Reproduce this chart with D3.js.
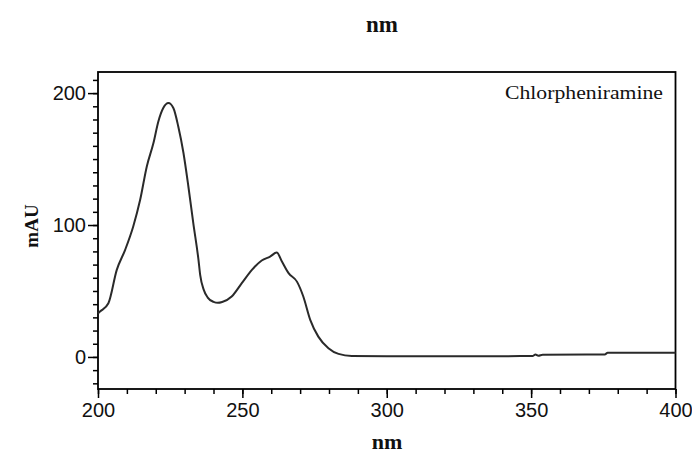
<!DOCTYPE html>
<html>
<head>
<meta charset="utf-8">
<script src="https://cdn.jsdelivr.net/npm/d3@7"></script>
<style>
  html, body { margin: 0; padding: 0; background: #fff; }
  svg { display: block; }
</style>
</head>
<body>
<svg id="chart" width="692" height="455"></svg>
<script>
// ---- data ----
const wavelength = [200, 200.7, 203.6, 206.5, 209.4, 212.2, 214.6, 216.9, 219.2, 220.9, 222.6, 224.4, 226.1, 227.8, 229.6, 231.3, 233.0, 234.8, 235.4, 236.6, 238.0, 240.0, 241.5, 243.0, 246.3, 249.8, 253.3, 256.7, 259.6, 261.9, 263.7, 266.0, 268.9, 271.1, 273.5, 276.3, 279.8, 283.3, 287.9, 300, 320, 340, 350.5, 351.5, 352.5, 354, 370, 375.5, 376.5, 400];
const absorbance = [33, 34.4, 40.7, 66, 81.2, 98.9, 119.1, 144.4, 162.1, 178.5, 188.7, 192.5, 188.7, 174.7, 154.6, 129.2, 101.4, 73.6, 62, 51, 45, 41.8, 41.0, 41.6, 45.8, 55.9, 66, 73.1, 76.1, 79.1, 72.3, 63.5, 57.1, 45.8, 28.1, 15.4, 6.6, 2.3, 0.8, 0.6, 0.6, 0.6, 0.7, 1.8, 0.9, 1.7, 1.9, 1.9, 3.1, 3.1];

const xMajorTicks = [200, 250, 300, 350, 400];
const xMinorTicks = d3.range(200, 401, 10);
const yMajorTicks = [0, 100, 200];
const yMinorTicks = d3.range(-20, 211, 10);

const seriesLabel = "Chlorpheniramine";
const xTitle = "nm";
const yTitle = "mAU";

// ---- layout ----
const svg = d3.select("#chart");
const plotLeft = 98, plotRight = 675.5, plotTop = 72, plotBottom = 389;

const x = d3.scaleLinear().domain([200, 400]).range([plotLeft, plotRight]);
const y = d3.scaleLinear().domain([-24.3, 216]).range([plotBottom, plotTop]);

const tickFont = "'Liberation Sans', Arial, sans-serif";
const serif = "'Liberation Serif', 'Times New Roman', serif";

// minor x ticks
svg.append("g")
  .attr("transform", `translate(0,${plotBottom})`)
  .call(d3.axisBottom(x).tickValues(xMinorTicks).tickSize(5).tickFormat(""))
  .call(g => g.select(".domain").remove())
  .call(g => g.selectAll("line").attr("stroke", "#000").attr("stroke-width", 1.5));

// major x ticks with labels
svg.append("g")
  .attr("transform", `translate(0,${plotBottom})`)
  .call(d3.axisBottom(x).tickValues(xMajorTicks).tickSize(9).tickPadding(5).tickFormat(d3.format("d")))
  .call(g => g.select(".domain").remove())
  .call(g => g.selectAll("line").attr("stroke", "#000").attr("stroke-width", 1.5))
  .call(g => g.selectAll("text").attr("fill", "#111").style("font-family", tickFont).style("font-size", "20px"));

// minor y ticks
svg.append("g")
  .attr("transform", `translate(${plotLeft},0)`)
  .call(d3.axisLeft(y).tickValues(yMinorTicks).tickSize(5).tickFormat(""))
  .call(g => g.select(".domain").remove())
  .call(g => g.selectAll("line").attr("stroke", "#000").attr("stroke-width", 1.5));

// major y ticks with labels
svg.append("g")
  .attr("transform", `translate(${plotLeft},0)`)
  .call(d3.axisLeft(y).tickValues(yMajorTicks).tickSize(10).tickPadding(2).tickFormat(d3.format("d")))
  .call(g => g.select(".domain").remove())
  .call(g => g.selectAll("line").attr("stroke", "#000").attr("stroke-width", 1.5))
  .call(g => g.selectAll("text").attr("fill", "#111").style("font-family", tickFont).style("font-size", "20px"));

// frame
svg.append("rect")
  .attr("x", plotLeft).attr("y", plotTop)
  .attr("width", plotRight - plotLeft).attr("height", plotBottom - plotTop)
  .attr("fill", "none").attr("stroke", "#000").attr("stroke-width", 1.8);

// spectrum
const data = wavelength.map((w, i) => ({ w, a: absorbance[i] }));
svg.append("path")
  .datum(data)
  .attr("fill", "none")
  .attr("stroke", "#2a2a2a")
  .attr("stroke-width", 2)
  .attr("stroke-linejoin", "round")
  .attr("d", d3.line().x(d => x(d.w)).y(d => y(d.a)).curve(d3.curveMonotoneX));

// series label
svg.append("text")
  .attr("x", 663).attr("y", 99)
  .attr("text-anchor", "end")
  .attr("textLength", 158).attr("lengthAdjust", "spacingAndGlyphs")
  .style("font-family", serif).style("font-size", "18px").attr("fill", "#111")
  .text(seriesLabel);

// titles
svg.append("text")
  .attr("x", 382).attr("y", 32)
  .attr("text-anchor", "middle")
  .style("font-family", serif).style("font-size", "23px").style("font-weight", "bold").attr("fill", "#111")
  .text(xTitle);

svg.append("text")
  .attr("x", 387).attr("y", 449)
  .attr("text-anchor", "middle")
  .style("font-family", serif).style("font-size", "22px").style("font-weight", "bold").attr("fill", "#111")
  .text(xTitle);

svg.append("text")
  .attr("transform", "translate(38,226) rotate(-90)")
  .attr("text-anchor", "middle")
  .style("font-family", serif).style("font-size", "19px").style("font-weight", "bold").attr("fill", "#111")
  .text(yTitle);
</script>
</body>
</html>
